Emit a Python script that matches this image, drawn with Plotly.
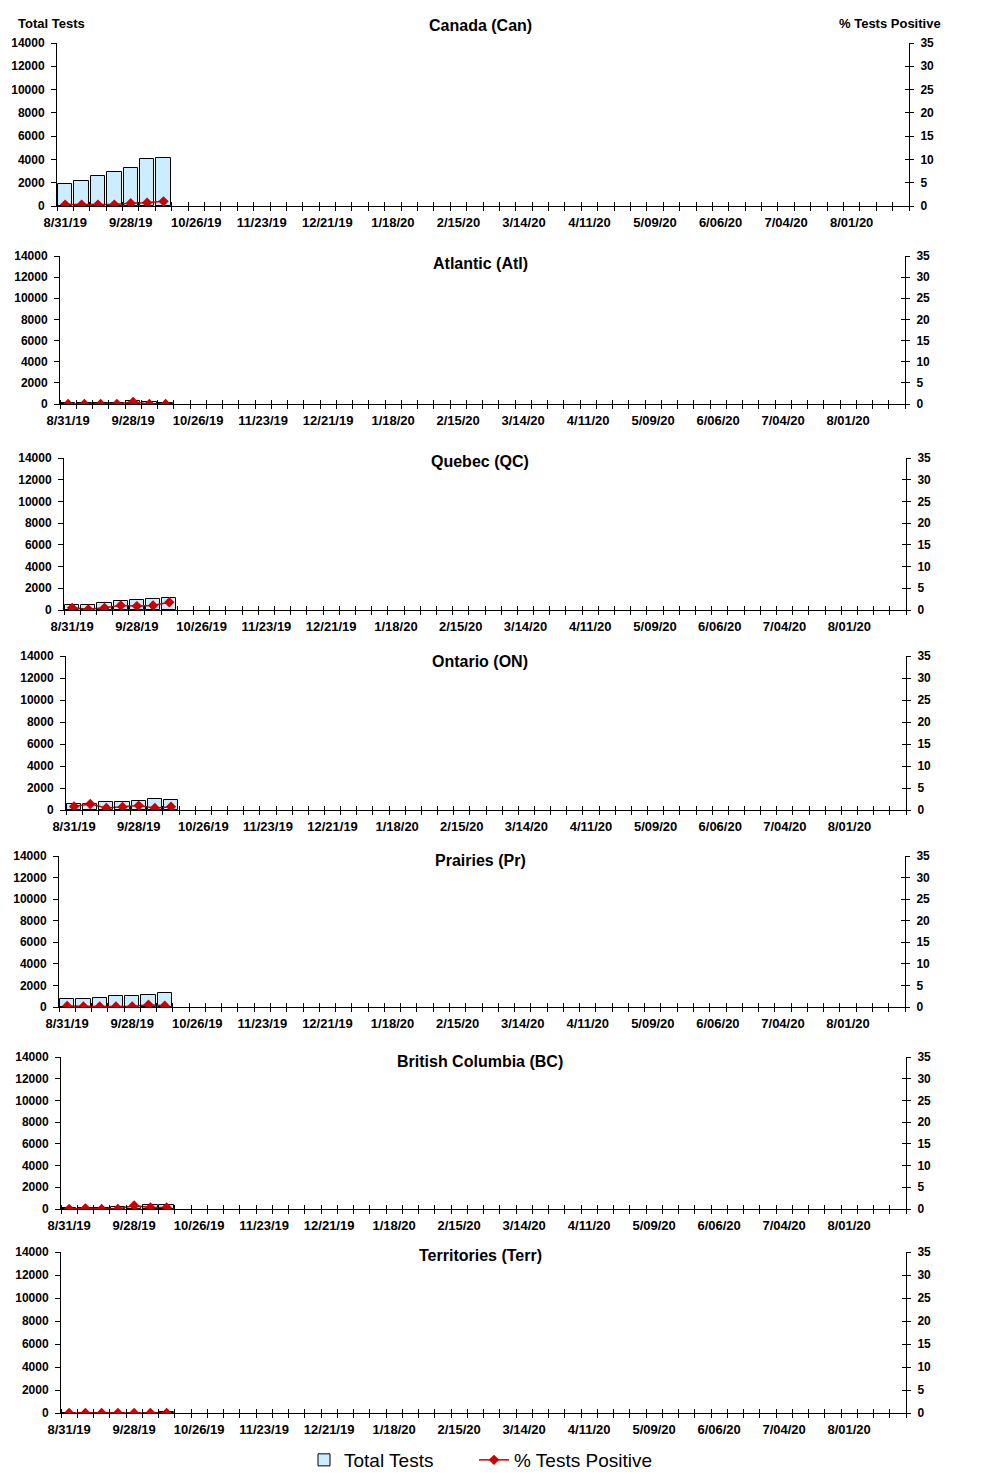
import plotly.graph_objects as go

# the page body adds an 8px margin, so the figure is drawn 8px in from the corner
W, H, OFF = 1008, 1477, 8

# weekly reporting periods with data
week_dates = ["2019-08-31", "2019-09-07", "2019-09-14", "2019-09-21",
              "2019-09-28", "2019-10-05", "2019-10-12"]

regions = ["Canada (Can)", "Atlantic (Atl)", "Quebec (QC)", "Ontario (ON)",
           "Prairies (Pr)", "British Columbia (BC)", "Territories (Terr)"]

can_tests = [1900, 2150, 2600, 2950, 3300, 4000, 4100]
can_pos = [0.3, 0.3, 0.3, 0.3, 0.6, 0.7, 1.0]
atl_tests = [80, 80, 90, 100, 250, 220, 120]
atl_pos = [0, 0, 0, 0, 0.5, 0, 0]
qc_tests = [450, 500, 600, 800, 900, 1050, 1150]
qc_pos = [0.5, 0.15, 0.5, 1.05, 0.9, 1.05, 1.8]
on_tests = [550, 550, 730, 730, 820, 970, 900]
on_pos = [0.8, 1.35, 0.45, 0.7, 1.0, 0.45, 0.75]
pr_tests = [750, 750, 850, 1030, 1030, 1150, 1300]
pr_pos = [0.25, 0.1, 0.1, 0.1, 0.1, 0.55, 0.3]
bc_tests = [100, 100, 100, 220, 220, 400, 400]
bc_pos = [0, 0.15, 0, 0, 0.8, 0.35, 0.35]
terr_tests = [10, 10, 10, 20, 20, 30, 80]
terr_pos = [0, 0, 0, 0, 0, 0, 0]

tests = [can_tests, atl_tests, qc_tests, on_tests, pr_tests, bc_tests, terr_tests]
positive = [can_pos, atl_pos, qc_pos, on_pos, pr_pos, bc_pos, terr_pos]

# panel boxes in page pixels: left, right, top, bottom, title y
boxes = [(57, 909, 43, 206, 26),
         (60, 905, 256, 404, 264),
         (64, 906, 458, 610, 462),
         (66, 906, 656, 810, 661),
         (59, 905, 856, 1007, 861),
         (61, 906, 1057, 1209, 1061),
         (61, 906, 1252, 1413, 1255)]


def px(x):
    return (x - OFF) / W


def py(y):
    return 1 - (y - OFF) / H


FONT = "Liberation Sans, Arial, sans-serif"
BAR_FILL = "#CCECFF"
RED = "#CC0000"
WEEK = 7 * 86400000
x_range = ["2019-08-27 12:00", "2020-08-25 12:00"]

fig = go.Figure()
layout = {}
annotations = []

for i, (name, t, p, box) in enumerate(zip(regions, tests, positive, boxes)):
    x0, x1, yt, yb, ty = box
    xa, xb = 2 * i + 1, 2 * i + 2
    ya, yb2, yc = 3 * i + 1, 3 * i + 2, 3 * i + 3
    xdom = [px(x0), px(x1)]
    ydom = [py(yb), py(yt)]

    fig.add_trace(go.Bar(
        x=week_dates, y=t, width=0.88 * WEEK,
        marker=dict(color=BAR_FILL, line=dict(color="black", width=1)),
        name="Total Tests", showlegend=(i == 0), legend="legend",
        xaxis="x%d" % xa, yaxis="y%d" % ya))
    fig.add_trace(go.Scatter(
        x=week_dates, y=p, mode="lines+markers",
        line=dict(color=RED, width=1.5),
        marker=dict(symbol="diamond", size=8, color=RED),
        name="% Tests Positive", showlegend=(i == 0), legend="legend2",
        xaxis="x%d" % xa, yaxis="y%d" % yb2))
    # invisible trace so the overlay axes (inner tick halves) get drawn
    fig.add_trace(go.Scatter(
        x=[None], y=[None], showlegend=False, hoverinfo="skip",
        xaxis="x%d" % xb, yaxis="y%d" % yc))

    layout["xaxis%d" % xa] = dict(
        domain=xdom, anchor="y%d" % ya, type="date", range=x_range,
        tickmode="linear", tick0="2019-08-31", dtick=4 * WEEK,
        tickformat="%-m/%d/%y", ticks="", showgrid=False, automargin=False,
        showline=True, linecolor="black", linewidth=1,
        minor=dict(tickmode="linear", tick0="2019-08-27 12:00", dtick=WEEK,
                   ticks="outside", ticklen=4, tickcolor="black", showgrid=False),
        ticklabelstandoff=4,
        tickfont=dict(family=FONT, size=13, color="black", weight="bold"))
    layout["xaxis%d" % xb] = dict(
        domain=xdom, anchor="y%d" % ya, overlaying="x%d" % xa, type="date",
        range=x_range, showticklabels=False, ticks="", showgrid=False,
        showline=False, automargin=False,
        minor=dict(tickmode="linear", tick0="2019-08-27 12:00", dtick=WEEK,
                   ticks="inside", ticklen=4, tickcolor="black", showgrid=False))
    layout["yaxis%d" % ya] = dict(
        domain=ydom, anchor="x%d" % xa, range=[0, 14000], dtick=2000,
        tickformat="d", ticks="outside", ticklen=5, tickcolor="black",
        showgrid=False, zeroline=False, showline=True, linecolor="black",
        linewidth=1, automargin=False, ticklabelstandoff=4,
        tickfont=dict(family=FONT, size=12, color="black", weight="bold"))
    layout["yaxis%d" % yb2] = dict(
        domain=ydom, anchor="x%d" % xa, overlaying="y%d" % ya, side="right",
        range=[0, 35], dtick=5, ticks="outside", ticklen=4, tickcolor="black",
        showgrid=False, zeroline=False, showline=True, linecolor="black",
        linewidth=1, ticklabelstandoff=4, automargin=False,
        tickfont=dict(family=FONT, size=12, color="black", weight="bold"))
    layout["yaxis%d" % yc] = dict(
        domain=ydom, anchor="x%d" % xa, overlaying="y%d" % ya, side="right",
        range=[0, 35], dtick=5, ticks="inside", ticklen=4, tickcolor="black",
        showticklabels=False, showgrid=False, zeroline=False, showline=False,
        automargin=False)

    annotations.append(dict(
        text="<b>%s</b>" % name, x=px(480), y=py(ty), xref="paper",
        yref="paper", xanchor="center", yanchor="middle", showarrow=False,
        font=dict(family=FONT, size=16, color="black")))

annotations.append(dict(
    text="<b>Total Tests</b>", x=px(51), y=py(23), xref="paper", yref="paper",
    xanchor="center", yanchor="middle", showarrow=False,
    font=dict(family=FONT, size=13, color="black")))
annotations.append(dict(
    text="<b>% Tests Positive</b>", x=px(890), y=py(23), xref="paper",
    yref="paper", xanchor="center", yanchor="middle", showarrow=False,
    font=dict(family=FONT, size=13, color="black")))

legend_font = dict(family=FONT, size=19, color="black")
fig.update_layout(
    template="none",
    width=W, height=H, margin=dict(l=0, r=0, t=0, b=0),
    paper_bgcolor="white", plot_bgcolor="white",
    font=dict(family=FONT, color="black"),
    bargap=0, annotations=annotations, showlegend=True,
    legend=dict(orientation="h", x=px(304), xanchor="left",
                y=py(1460), yanchor="middle", font=legend_font,
                bgcolor="rgba(0,0,0,0)"),
    legend2=dict(orientation="h", x=px(474), xanchor="left",
                 y=py(1460), yanchor="middle", font=legend_font,
                 itemwidth=30, bgcolor="rgba(0,0,0,0)"),
    **layout)

fig.write_html("out.html")
